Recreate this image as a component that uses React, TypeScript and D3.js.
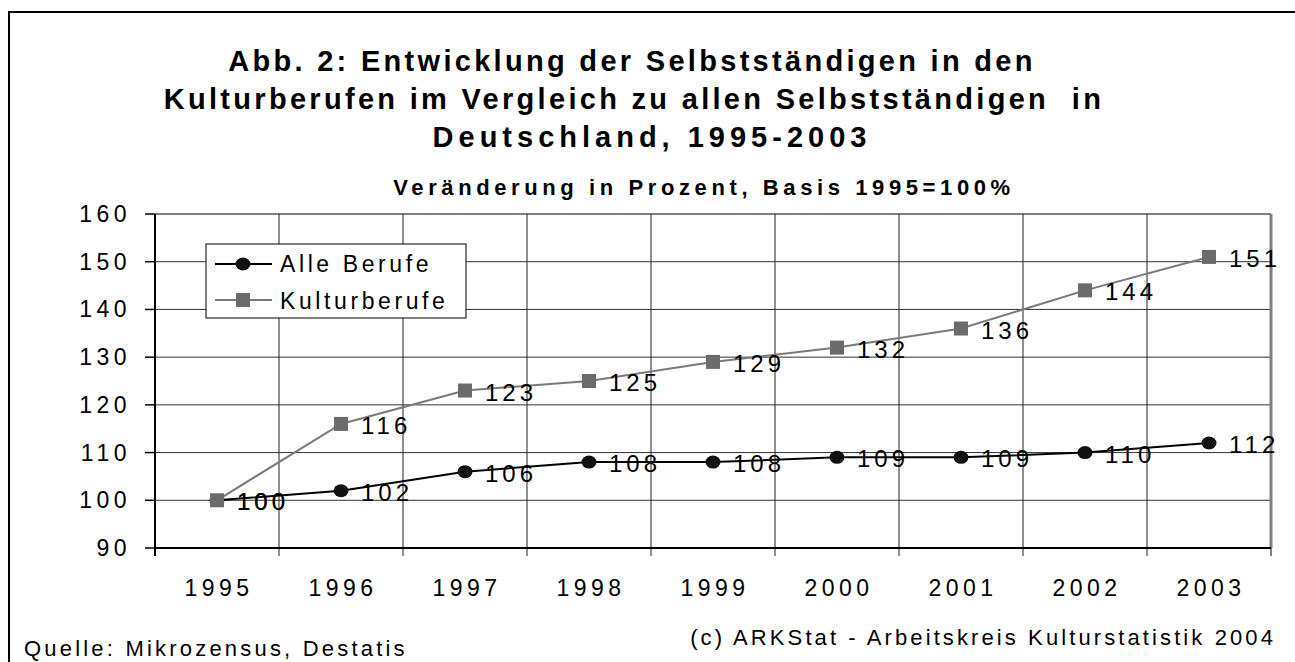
import { useRef, useEffect } from "react";
import * as d3 from "d3";

// Jahre und Indexwerte (1995 = 100)
const years = ["1995", "1996", "1997", "1998", "1999", "2000", "2001", "2002", "2003"];
const alleBerufe = [100, 102, 106, 108, 108, 109, 109, 110, 112];
const kulturBerufe = [100, 116, 123, 125, 129, 132, 136, 144, 151];
const yTicks = [90, 100, 110, 120, 130, 140, 150, 160];
const titleLines = [
  "Abb. 2: Entwicklung der Selbstständigen in den",
  "Kulturberufen im Vergleich zu allen Selbstständigen  in",
  "Deutschland, 1995-2003",
];
const subtitle = "Veränderung in Prozent, Basis 1995=100%";
const quelle = "Quelle: Mikrozensus, Destatis";
const copyright = "(c) ARKStat - Arbeitskreis Kulturstatistik 2004";

const FONT = "'Liberation Sans', Arial, sans-serif";

const App = () => {
  const svgRef = useRef<SVGSVGElement>(null);

  useEffect(() => {
    const svg = d3.select(svgRef.current);
    svg.selectAll("*").remove();

    const width = 1295;
    const height = 662;
    const left = 155;
    const right = 1271;
    const top = 214;
    const bottom = 548;

    // Rahmen
    svg
      .append("rect")
      .attr("x", 9)
      .attr("y", 12)
      .attr("width", width + 20)
      .attr("height", height + 20)
      .attr("fill", "#fff")
      .attr("stroke", "#000")
      .attr("stroke-width", 2);

    // Titel
    const tl = svg
      .append("g")
      .attr("font-family", FONT)
      .attr("font-weight", "bold")
      .attr("font-size", 29)
      .attr("text-anchor", "middle");
    const titleX = [632, 634, 652];
    const titleLs = [3.3, 3.3, 5];
    titleLines.forEach((t, i) => {
      tl.append("text")
        .attr("x", titleX[i])
        .attr("y", 71 + i * 38)
        .attr("letter-spacing", titleLs[i])
        .attr("xml:space", "preserve")
        .text(t);
    });
    svg
      .append("text")
      .attr("x", 704)
      .attr("y", 195)
      .attr("font-family", FONT)
      .attr("font-weight", "bold")
      .attr("font-size", 22)
      .attr("letter-spacing", 4.6)
      .attr("text-anchor", "middle")
      .text(subtitle);

    const x = d3.scaleBand().domain(years).range([left, right]);
    const y = d3.scaleLinear().domain([90, 160]).range([bottom, top]);
    const cx = (i: number) => (x(years[i]) as number) + x.bandwidth() / 2;

    // Gitter
    svg
      .append("g")
      .selectAll("line")
      .data(yTicks.slice(1))
      .enter()
      .append("line")
      .attr("x1", left)
      .attr("x2", right)
      .attr("y1", (d) => y(d))
      .attr("y2", (d) => y(d))
      .attr("stroke", (d) => (d === 160 ? "#808080" : "#333"))
      .attr("stroke-width", (d) => (d === 160 ? 2 : 1));
    svg
      .append("g")
      .selectAll("line")
      .data(years.slice(1))
      .enter()
      .append("line")
      .attr("x1", (d) => x(d) as number)
      .attr("x2", (d) => x(d) as number)
      .attr("y1", top)
      .attr("y2", bottom + 8)
      .attr("stroke", "#222")
      .attr("stroke-width", 1);
    svg
      .append("line")
      .attr("x1", right)
      .attr("x2", right)
      .attr("y1", top)
      .attr("y2", bottom)
      .attr("stroke", "#808080")
      .attr("stroke-width", 3);
    svg
      .append("line")
      .attr("x1", right)
      .attr("x2", right)
      .attr("y1", bottom)
      .attr("y2", bottom + 8)
      .attr("stroke", "#000");

    // Achsen
    svg
      .append("line")
      .attr("x1", left)
      .attr("x2", left)
      .attr("y1", top)
      .attr("y2", bottom + 8)
      .attr("stroke", "#000")
      .attr("stroke-width", 2);
    svg
      .append("line")
      .attr("x1", left)
      .attr("x2", right)
      .attr("y1", bottom)
      .attr("y2", bottom)
      .attr("stroke", "#000")
      .attr("stroke-width", 2);
    svg
      .append("g")
      .selectAll("line")
      .data(yTicks)
      .enter()
      .append("line")
      .attr("x1", left - 10)
      .attr("x2", left)
      .attr("y1", (d) => y(d))
      .attr("y2", (d) => y(d))
      .attr("stroke", "#000")
      .attr("stroke-width", 1.5);

    const tickFont = svg
      .append("g")
      .attr("font-family", FONT)
      .attr("font-size", 23)
      .attr("letter-spacing", 4.5)
      .attr("fill", "#000");
    tickFont
      .selectAll("text.y")
      .data(yTicks)
      .enter()
      .append("text")
      .attr("class", "y")
      .attr("x", 131)
      .attr("y", (d) => y(d) + 8)
      .attr("text-anchor", "end")
      .text((d) => d);
    tickFont
      .selectAll("text.x")
      .data(years)
      .enter()
      .append("text")
      .attr("class", "x")
      .attr("x", (d) => (x(d) as number) + x.bandwidth() / 2 + 2)
      .attr("y", 596)
      .attr("text-anchor", "middle")
      .text((d) => d);

    // Linien
    const line = d3
      .line<number>()
      .x((_, i) => cx(i))
      .y((d) => y(d));
    svg
      .append("path")
      .datum(alleBerufe)
      .attr("d", line)
      .attr("fill", "none")
      .attr("stroke", "#000")
      .attr("stroke-width", 2);
    svg
      .append("g")
      .selectAll("ellipse")
      .data(alleBerufe)
      .enter()
      .append("ellipse")
      .attr("cx", (_, i) => cx(i))
      .attr("cy", (d) => y(d))
      .attr("rx", 7.5)
      .attr("ry", 6.5)
      .attr("fill", "#111");
    svg
      .append("path")
      .datum(kulturBerufe)
      .attr("d", line)
      .attr("fill", "none")
      .attr("stroke", "#7a7a7a")
      .attr("stroke-width", 2);
    svg
      .append("g")
      .selectAll("rect")
      .data(kulturBerufe)
      .enter()
      .append("rect")
      .attr("x", (_, i) => cx(i) - 7)
      .attr("y", (d) => y(d) - 7)
      .attr("width", 14)
      .attr("height", 14)
      .attr("fill", "#6b6b6b");

    // Beschriftungen
    const labels = svg
      .append("g")
      .attr("font-family", FONT)
      .attr("font-size", 24)
      .attr("letter-spacing", 4)
      .attr("fill", "#000");
    [alleBerufe, kulturBerufe].forEach((serie) => {
      labels
        .append("g")
        .selectAll("text")
        .data(serie)
        .enter()
        .append("text")
        .attr("x", (_, i) => cx(i) + 20)
        .attr("y", (d) => y(d) + 10)
        .text((d) => d);
    });

    // Legende
    const lg = svg.append("g").attr("transform", "translate(206,244)");
    lg.append("rect")
      .attr("width", 260)
      .attr("height", 74)
      .attr("fill", "#fff")
      .attr("stroke", "#000")
      .attr("stroke-width", 1);
    lg.append("line").attr("x1", 9).attr("x2", 66).attr("y1", 20).attr("y2", 20).attr("stroke", "#000").attr("stroke-width", 2);
    lg.append("ellipse").attr("cx", 37).attr("cy", 20).attr("rx", 7.5).attr("ry", 6.5).attr("fill", "#111");
    lg.append("line").attr("x1", 9).attr("x2", 66).attr("y1", 56).attr("y2", 56).attr("stroke", "#7a7a7a").attr("stroke-width", 2);
    lg.append("rect").attr("x", 30).attr("y", 49).attr("width", 14).attr("height", 14).attr("fill", "#6b6b6b");
    const lgText = lg
      .append("g")
      .attr("font-family", FONT)
      .attr("font-size", 23)
      .attr("letter-spacing", 3.6);
    lgText.append("text").attr("x", 74).attr("y", 28).text("Alle Berufe");
    lgText.append("text").attr("x", 74).attr("y", 65).text("Kulturberufe");

    // Fußzeile
    svg
      .append("text")
      .attr("x", 24)
      .attr("y", 656)
      .attr("font-family", FONT)
      .attr("font-size", 22)
      .attr("letter-spacing", 3.2)
      .text(quelle);
    svg
      .append("text")
      .attr("x", 1276)
      .attr("y", 645)
      .attr("text-anchor", "end")
      .attr("font-family", FONT)
      .attr("font-size", 22)
      .attr("letter-spacing", 3.1)
      .text(copyright);
  }, []);

  return (
    <svg
      ref={svgRef}
      width={1295}
      height={662}
      style={{ position: "absolute", left: 0, top: 0, display: "block" }}
    ></svg>
  );
};

export default App;
